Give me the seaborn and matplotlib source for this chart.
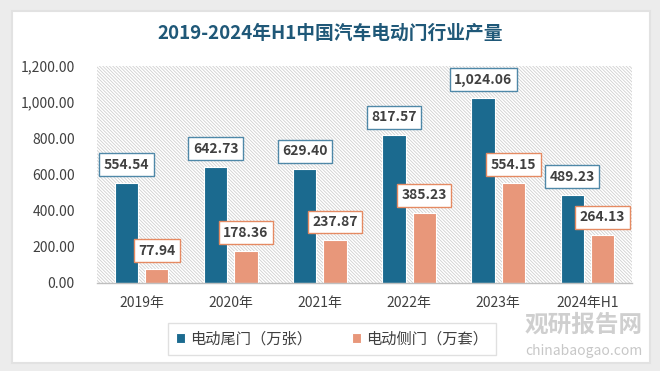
import matplotlib
matplotlib.use("Agg")
import matplotlib.pyplot as plt
from matplotlib.patches import FancyBboxPatch, Rectangle
from matplotlib.ticker import FuncFormatter
import pandas as pd
import seaborn as sns

# Chart data
years = ["2019年", "2020年", "2021年", "2022年", "2023年", "2024年H1"]
tail_gate = [554.54, 642.73, 629.40, 817.57, 1024.06, 489.23]   # 电动尾门（万张）
side_door = [77.94, 178.36, 237.87, 385.23, 554.15, 264.13]     # 电动侧门（万套）
series_names = ["电动尾门（万张）", "电动侧门（万套）"]
y_ticks = [0, 200, 400, 600, 800, 1000, 1200]

BLUE = "#1b6a8f"
ORANGE = "#e8977a"
BLUE_EDGE = "#4f88a8"
ORANGE_EDGE = "#e58a62"
TEXT = "#404040"

sns.set_theme(style="white")
plt.rcParams["font.family"] = ["Noto Sans CJK SC", "DejaVu Sans"]
plt.rcParams["hatch.color"] = "#cfcfcf"
plt.rcParams["hatch.linewidth"] = 0.6

df = pd.DataFrame({
    "year": years * 2,
    "value": tail_gate + side_door,
    "series": [series_names[0]] * len(years) + [series_names[1]] * len(years),
})

fig = plt.figure(figsize=(6.6, 3.71), dpi=100, facecolor="#ececec")
# white card with soft border, kept behind the axes
card = FancyBboxPatch((12 / 660, 8 / 371), 638 / 660, 352 / 371,
                      boxstyle="square,pad=0", transform=fig.transFigure,
                      facecolor="white", edgecolor="#e2e2e2", lw=1.5, zorder=-5)
fig.patches.append(card)

ax = fig.add_axes([97 / 660, 1 - 283 / 371, 535 / 660, 217 / 371])
ax.set_facecolor("none")

# finely hatched plot background
ax.add_patch(Rectangle((0, 0), 1, 1, transform=ax.transAxes, facecolor="white",
                       edgecolor="#cfcfcf", hatch="\\" * 10, lw=0, zorder=0))

sns.barplot(data=df, x="year", y="value", hue="series", order=years,
            hue_order=series_names, palette=[BLUE, ORANGE], width=0.68,
            gap=0.23, edgecolor="white", linewidth=0.8, legend=True,
            saturation=1, ax=ax, zorder=2)

ax.set_ylim(0, 1200)
ax.set_yticks(y_ticks)
ax.yaxis.set_major_formatter(FuncFormatter(lambda v, _: f"{v:,.2f}"))
ax.set_xlim(-0.5, len(years) - 0.5)
ax.set_xlabel("")
ax.set_ylabel("")
ax.tick_params(axis="y", length=0, pad=16, labelsize=10, labelcolor=TEXT)
ax.tick_params(axis="x", length=0, pad=9, labelsize=10, labelcolor=TEXT)
for side in ["top", "right", "left"]:
    ax.spines[side].set_visible(False)
ax.spines["bottom"].set_color("#bfbfbf")
ax.spines["bottom"].set_linewidth(1)

# value labels in boxes
for container, edge in zip(ax.containers, [BLUE_EDGE, ORANGE_EDGE]):
    for bar in container:
        h = bar.get_height()
        ax.annotate(f"{h:,.2f}", xy=(bar.get_x() + bar.get_width() / 2, h),
                    xytext=(0, 18), textcoords="offset pixels",
                    ha="center", va="center", fontsize=10, fontweight="bold",
                    color=TEXT, zorder=5,
                    bbox=dict(boxstyle="square,pad=0.32", fc="white", ec=edge, lw=1))

# legend
handles, labels = ax.get_legend_handles_labels()
ax.get_legend().remove()
fig.legend(handles, labels, loc="center", bbox_to_anchor=(0.503, 0.087),
           ncol=2, frameon=True, fancybox=False, edgecolor="#d9d9d9",
           fontsize=11, handlelength=0.6, handleheight=0.6,
           handletextpad=0.35, columnspacing=2.6, borderpad=0.5,
           borderaxespad=0, labelcolor=TEXT)

fig.text(0.5, 1 - 33 / 371, "2019-2024年H1中国汽车电动门行业产量",
         ha="center", va="center", fontsize=13.5, fontweight="bold",
         color="#1f5878")

# watermark
fig.text(0.885, 0.125, "观研报告网", ha="center", va="center", fontsize=17,
         fontweight="bold", color="#b0b0b0", alpha=0.6)
fig.text(0.885, 0.055, "chinabaogao.com", ha="center", va="center",
         fontsize=10, color="#b0b0b0", alpha=0.7)

fig.savefig("out.png", dpi=100, facecolor=fig.get_facecolor())
